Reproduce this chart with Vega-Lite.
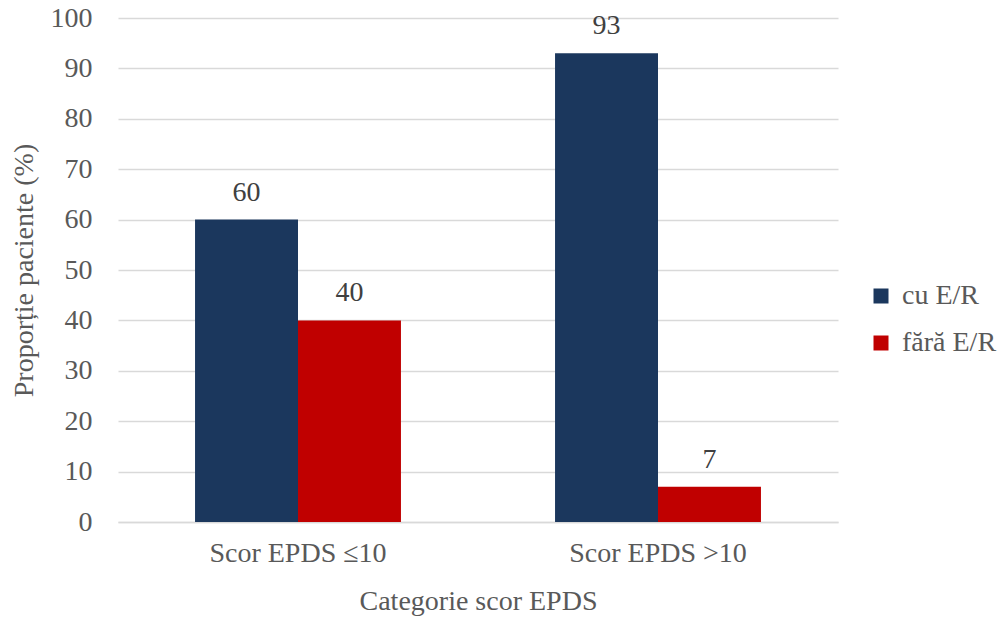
{
  "$schema": "https://vega.github.io/schema/vega-lite/v6.json",
  "width": 720,
  "height": 504,
  "autosize": {"type": "none"},
  "padding": {"left": 118, "top": 18, "right": 165, "bottom": 95},
  "background": "white",
  "config": {
    "font": "Liberation Serif",
    "view": {"stroke": null},
    "text": {"font": "Liberation Serif"},
    "axis": {"labelFont": "Liberation Serif", "titleFont": "Liberation Serif", "labelColor": "#595959", "titleColor": "#595959", "titleFontWeight": "normal"},
    "legend": {"labelFont": "Liberation Serif", "labelColor": "#595959"}
  },
  "data": {
    "values": [
      {"categorie": "Scor EPDS ≤10", "grup": "cu E/R", "proportie": 60},
      {"categorie": "Scor EPDS ≤10", "grup": "fără E/R", "proportie": 40},
      {"categorie": "Scor EPDS >10", "grup": "cu E/R", "proportie": 93},
      {"categorie": "Scor EPDS >10", "grup": "fără E/R", "proportie": 7}
    ]
  },
  "encoding": {
    "x": {
      "field": "categorie",
      "type": "nominal",
      "sort": ["Scor EPDS ≤10", "Scor EPDS >10"],
      "scale": {"paddingInner": 0.428, "paddingOuter": 0.214},
      "axis": {
        "title": "Categorie scor EPDS",
        "labelFont": "Liberation Serif",
        "titleFont": "Liberation Serif",
        "labelAngle": 0,
        "labelFontSize": 28,
        "titleFontSize": 28,
        "labelPadding": 17,
        "titlePadding": 20,
        "ticks": false,
        "domainColor": "#D9D9D9",
        "domainWidth": 1.5
      }
    },
    "xOffset": {"field": "grup", "type": "nominal", "sort": ["cu E/R", "fără E/R"], "scale": {"paddingInner": 0, "paddingOuter": 0}},
    "y": {
      "field": "proportie",
      "type": "quantitative",
      "scale": {"domain": [0, 100]},
      "axis": {
        "title": "Proporție paciente (%)",
        "labelFont": "Liberation Serif",
        "titleFont": "Liberation Serif",
        "values": [0, 10, 20, 30, 40, 50, 60, 70, 80, 90, 100],
        "labelFontSize": 28,
        "titleFontSize": 28,
        "labelPadding": 26,
        "titlePadding": 12,
        "ticks": false,
        "domain": false,
        "gridColor": "#D9D9D9",
        "gridWidth": 1.5
      }
    }
  },
  "layer": [
    {
      "mark": {"type": "bar"},
      "encoding": {
        "color": {
          "field": "grup",
          "type": "nominal",
          "sort": ["cu E/R", "fără E/R"],
          "scale": {"domain": ["cu E/R", "fără E/R"], "range": ["#1B375D", "#C00000"]},
          "legend": {
            "title": null,
            "orient": "none",
            "legendX": 749,
            "legendY": 264,
            "labelFont": "Liberation Serif",
            "symbolType": "square",
            "symbolSize": 225,
            "symbolStrokeWidth": 0,
            "labelFontSize": 28,
            "labelOffset": 7,
            "rowPadding": 19
          }
        }
      }
    },
    {
      "mark": {"type": "text", "font": "Liberation Serif", "baseline": "bottom", "dy": -13, "fontSize": 28, "color": "#404040"},
      "encoding": {"text": {"field": "proportie", "type": "quantitative"}}
    }
  ]
}
